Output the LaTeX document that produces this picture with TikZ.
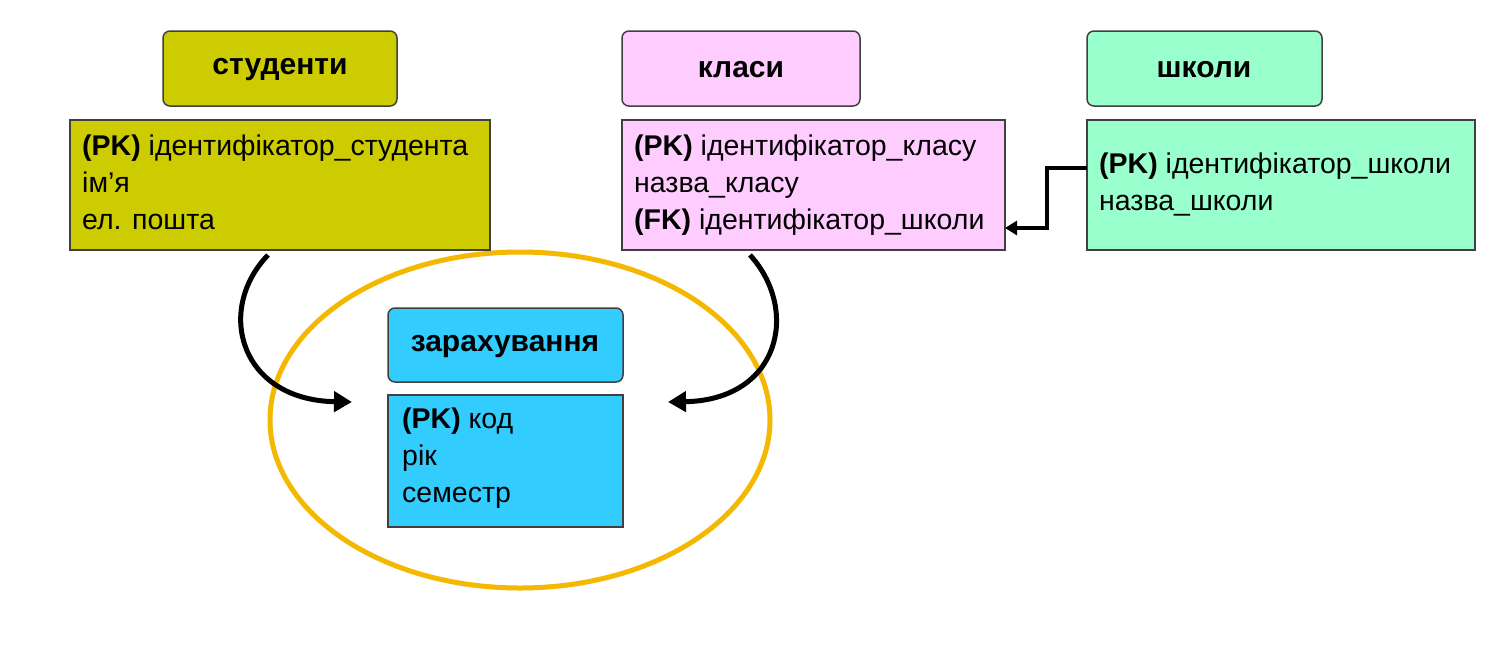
\documentclass[tikz,border=0pt]{standalone}
\usepackage{fontspec}
\setmainfont{Liberation Sans}
\usetikzlibrary{arrows.meta}
\definecolor{olive}{HTML}{CCCC00}
\definecolor{pinkc}{HTML}{FFCCFF}
\definecolor{mint}{HTML}{99FFCC}
\definecolor{cyanc}{HTML}{33CCFF}
\definecolor{orangec}{HTML}{F5B800}
\begin{document}
\begin{tikzpicture}[x=1pt,y=-1pt,
 head/.style={draw=black!75,line width=1.5pt,rounded corners=7pt},
 body/.style={draw=black!75,line width=1.5pt},
 htxt/.style={font=\fontsize{30}{34}\selectfont\bfseries},
 btxt/.style={font=\fontsize{28.5}{37}\selectfont,align=left,anchor=north west,inner sep=0pt},
 arr/.style={line width=5pt,-{Triangle[length=18pt,width=20pt]}}]
\useasboundingbox (0,0) rectangle (1500,654);
\fill[white] (0,0) rectangle (1500,654);
\draw[orangec,line width=5pt] (520,420) ellipse [x radius=250,y radius=168];
% students
\draw[head,fill=olive] (163,31) rectangle (397,106);
\node[htxt] (sh) at (280,70) {студенти};
\draw[body,fill=olive] (70,120) rectangle (490,250);
\node[btxt] (sb) at (82,135) {\textbf{(PK)} ідентифікатор\_студента\\ім'я\\ел. пошта};
% classes
\draw[head,fill=pinkc] (622,31) rectangle (860,106);
\node[htxt] (ch) at (741,70) {класи};
\draw[body,fill=pinkc] (622,120) rectangle (1005,250);
\node[btxt] (cb) at (634,135) {\textbf{(PK)} ідентифікатор\_класу\\назва\_класу\\\textbf{(FK)} ідентифікатор\_школи};
% schools
\draw[head,fill=mint] (1087,31) rectangle (1322,106);
\node[htxt] (shh) at (1204,70) {школи};
\draw[body,fill=mint] (1087,120) rectangle (1475,250);
\node[btxt] (scb) at (1099,153) {\textbf{(PK)} ідентифікатор\_школи\\назва\_школи};
% enrollment
\draw[head,fill=cyanc] (388,308) rectangle (623,382);
\node[htxt] (eh) at (505,347) {зарахування};
\draw[body,fill=cyanc] (388,395) rectangle (623,527);
\node[btxt] (eb) at (402,408) {\textbf{(PK)} код\\рік\\семестр};
% connectors
\coordinate (s1) at (268,255); \coordinate (e1) at (352,402);
\coordinate (c1) at (750,255); \coordinate (e2) at (668,402);
\draw[arr] (s1) .. controls (215,310) and (240,400) .. (e1);
\draw[arr] (c1) .. controls (800,310) and (780,400) .. (e2);
\coordinate (k1) at (1087,168); \coordinate (k2) at (1005,228);
\draw[line width=3.5pt,-{Triangle[length=12pt,width=14pt]}] (k1) -- (1047,168) -- (1047,228) -- (k2);
\end{tikzpicture}
\end{document}
